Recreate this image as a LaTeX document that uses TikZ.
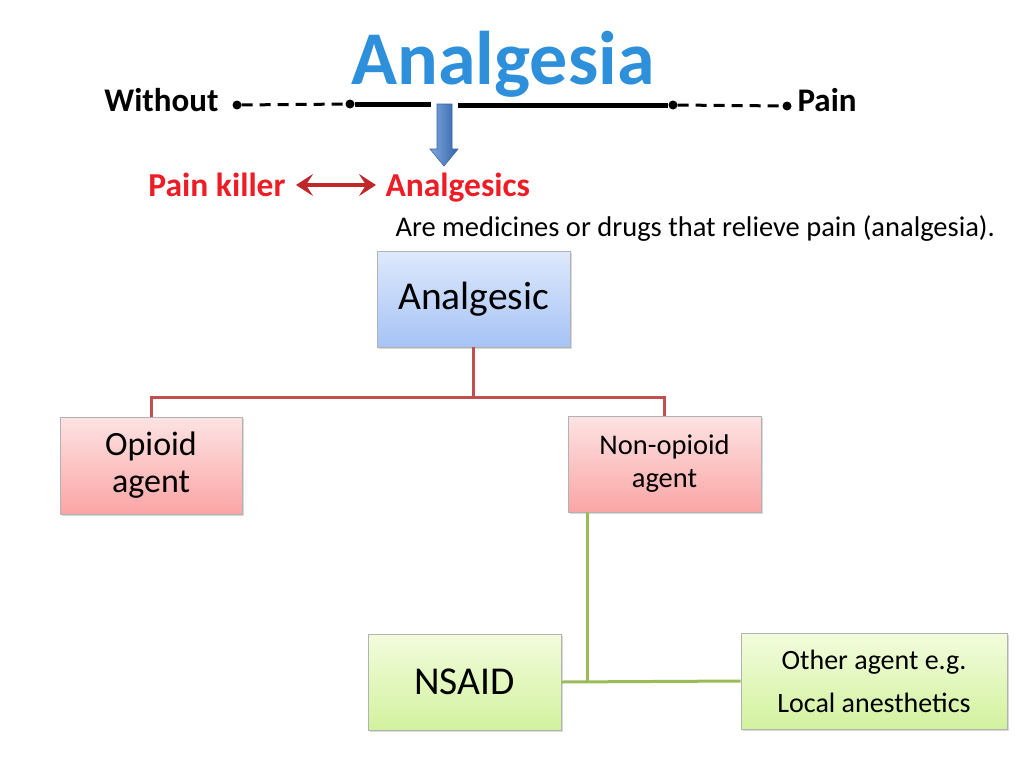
\documentclass[tikz,border=0pt]{standalone}
\usepackage{fontspec}
\setmainfont{Carlito}
\usepackage{xcolor}
\usetikzlibrary{arrows.meta,shadows}

\definecolor{linkred}{HTML}{C0504D}
\definecolor{linkgreen}{HTML}{9BBB59}
\definecolor{titleblue}{HTML}{2E90DA}
\definecolor{textred}{HTML}{EE1C25}
\definecolor{arrowred}{HTML}{C0282A}
\definecolor{bluetop}{HTML}{DEE9FC}
\definecolor{bluebot}{HTML}{A6C3F5}
\definecolor{pinktop}{HTML}{FDE3E3}
\definecolor{pinkbot}{HTML}{FBA5A5}
\definecolor{greentop}{HTML}{F3FCDD}
\definecolor{greenbot}{HTML}{D2F29E}
\definecolor{arrowlight}{HTML}{7FA8DE}
\definecolor{arrowdark}{HTML}{3464A8}

\tikzset{
  box/.style={draw=black!30,line width=.8pt,inner sep=0pt,align=center,
    drop shadow={shadow xshift=2pt,shadow yshift=-2pt,opacity=.3}},
  bluebox/.style={box,top color=bluetop,bottom color=bluebot,
    minimum width=193pt,minimum height=96pt},
  pinkbox/.style={box,top color=pinktop,bottom color=pinkbot,
    minimum width=193pt,minimum height=96pt},
  greenbox/.style={box,top color=greentop,bottom color=greenbot,
    minimum width=193pt,minimum height=96pt},
  redlink/.style={linkred,line width=3pt},
  greenlink/.style={linkgreen,line width=3pt},
  dot/.style={circle,fill=black,inner sep=0pt,minimum size=9pt}
}

\begin{document}
\begin{tikzpicture}[x=1pt,y=-1pt]
    \useasboundingbox (0,0) rectangle (1024,768);

    % title and scale
    \node[anchor=base,text=titleblue,font=\fontsize{76}{80}\selectfont\bfseries] (title) at (503,84) {Analgesia};
    \node[anchor=base east,font=\fontsize{33}{38}\selectfont\bfseries] (without) at (222,111) {Without};
    \node[anchor=base west,font=\fontsize{33}{38}\selectfont\bfseries] (pain) at (794,111) {Pain};
    \node[dot] (d1) at (237,105) {};
    \node[dot] (d2) at (350,104) {};
    \node[dot] (d3) at (673,105) {};
    \node[dot] (d4) at (787,106) {};
    \coordinate (gl) at (431,104);
    \coordinate (gr) at (458,105);
    \draw[line width=3pt,dash pattern=on 11pt off 7pt] (d1) -- (d2);
    \draw[line width=3pt,dash pattern=on 11pt off 7pt] (d3) -- (d4);
    \draw[line width=5pt] (d2) -- (gl);
    \draw[line width=5pt] (gr) -- (d3);

    % block arrow down
    \coordinate (tip) at (444,166);
    \shade[left color=arrowlight,right color=arrowdark,draw=arrowdark,line width=.6pt]
      (437,104) -- (452,104) -- (452,149) -- (458,149) -- (tip) -- (430,149) -- (437,149) -- cycle;

    % synonyms
    \node[anchor=base east,text=textred,font=\fontsize{33.5}{38}\selectfont\bfseries] (killer) at (289,196) {Pain killer};
    \node[anchor=base west,text=textred,font=\fontsize{33.5}{38}\selectfont\bfseries] (analgesics) at (382,196) {Analgesics};
    \coordinate (k1) at (296,185);
    \coordinate (k2) at (376,185);
    \draw[{Stealth[length=17pt,width=22pt,inset=7pt]}-{Stealth[length=17pt,width=22pt,inset=7pt]},arrowred,line width=3.5pt]
      (k1) -- (k2);
    \node[anchor=base west,font=\fontsize{28.5}{34}\selectfont] (def) at (392,236) {Are medicines or drugs that relieve pain (analgesia).};

    % tree
    \node[bluebox,font=\fontsize{39.5}{44}\selectfont] (analgesic) at (473.5,299) {Analgesic};
    \node[pinkbox,minimum width=182pt,minimum height=97pt,font=\fontsize{34}{37}\selectfont] (opioid) at (151,465.5) {Opioid\\agent};
    \node[pinkbox,font=\fontsize{28.5}{33}\selectfont] (nonopioid) at (664.5,464) {Non-opioid\\agent};
    \node[greenbox,font=\fontsize{39.5}{44}\selectfont] (nsaid) at (464.5,682) {NSAID};
    \node[greenbox,minimum width=266pt,font=\fontsize{28}{43}\selectfont] (other) at (874,681) {Other agent e.g.\\Local anesthetics};

    \draw[redlink] (analgesic.south) -- ++(0,50) coordinate (split);
    \draw[redlink] (opioid.north) |- (split) -| (nonopioid.north);
    \draw[greenlink] (nsaid.east) -- (other.west);
    \draw[greenlink] ([xshift=-77pt]nonopioid.south) coordinate (gtop) -- (gtop |- nsaid.east);
\end{tikzpicture}
\end{document}
